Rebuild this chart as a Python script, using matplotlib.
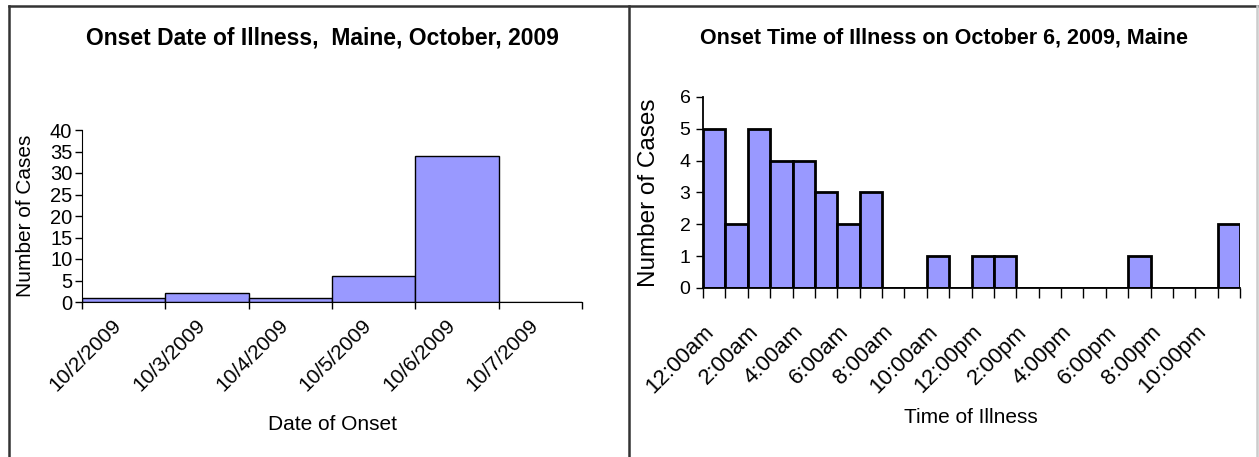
import matplotlib
matplotlib.use("Agg")
import matplotlib.pyplot as plt
from matplotlib.lines import Line2D

plt.rcParams['font.family'] = ['Liberation Sans', 'DejaVu Sans']

# left chart: cases by onset date
dates = ["10/2/2009", "10/3/2009", "10/4/2009", "10/5/2009", "10/6/2009", "10/7/2009"]
date_cases = [1, 2, 1, 6, 34, 0]

# right chart: cases by hour on Oct 6
hour_cases = [5, 2, 5, 4, 4, 3, 2, 3, 0, 0, 1, 0,
              1, 1, 0, 0, 0, 0, 0, 1, 0, 0, 0, 2]
hour_labels = ["12:00am", "2:00am", "4:00am", "6:00am", "8:00am", "10:00am",
               "12:00pm", "2:00pm", "4:00pm", "6:00pm", "8:00pm", "10:00pm"]

bar_color = '#9999ff'
W, H = 1259, 457

fig = plt.figure(figsize=(W / 100, H / 100), dpi=100)

# panel borders
for xs, ys, c in [((9, W), (H - 6, H - 6), '#333333'), ((9, 9), (0, H - 6), '#333333'),
                  ((629, 629), (0, H - 6), '#333333'), ((W - 2, W - 2), (0, H - 6), '#cccccc')]:
    fig.add_artist(Line2D([x / W for x in xs], [y / H for y in ys], color=c, lw=1.8))

########## left: onset date ##########
ax1 = fig.add_axes([82 / W, (H - 302) / H, 500 / W, 172 / H])
ax1.bar(range(len(date_cases)), date_cases, width=1, align='edge',
        color=bar_color, edgecolor='black', linewidth=1)
ax1.set_xlim(0, len(dates))
ax1.set_ylim(0, 40)
ax1.set_yticks(range(0, 41, 5))
ax1.set_xticks(range(len(dates) + 1))
ax1.set_xticklabels([])
ax1.set_xticks([i + 0.36 for i in range(len(dates))], minor=True)
ax1.set_xticklabels(dates, minor=True, rotation=45, ha='right',
                    rotation_mode='anchor', fontsize=15)
ax1.tick_params(axis='x', which='minor', length=0, pad=10)
ax1.tick_params(axis='x', which='major', length=5, width=1)
ax1.tick_params(axis='y', labelsize=14.5, length=5, width=1, pad=2)
for s in ['top', 'right']:
    ax1.spines[s].set_visible(False)
ax1.set_ylabel('Number of Cases', fontsize=15)
ax1.yaxis.set_label_coords(-0.094, 0.5)
ax1.set_xlabel('Date of Onset', fontsize=15)
ax1.xaxis.set_label_coords(0.502, -0.71)
ax1.xaxis.label.set_va('center')
fig.text(322 / W, 1 - 38 / H, 'Onset Date of Illness,  Maine, October, 2009',
         ha='center', va='center', fontsize=16.5, fontweight='bold')

########## right: onset time ##########
ax2 = fig.add_axes([703 / W, (H - 288) / H, 537 / W, 191 / H])
ax2.bar(range(len(hour_cases)), hour_cases, width=1, align='edge',
        color=bar_color, edgecolor='black', linewidth=2)
ax2.set_xlim(0, len(hour_cases))
ax2.set_ylim(0, 6)
ax2.set_yticks(range(0, 7))
ax2.set_xticks(range(len(hour_cases) + 1))
ax2.set_xticklabels([])
ax2.set_xticks([2 * i + 0.02 for i in range(len(hour_labels))], minor=True)
ax2.set_xticklabels(hour_labels, minor=True, rotation=45, ha='right',
                    rotation_mode='anchor', fontsize=16)
ax2.tick_params(axis='x', which='minor', length=0, pad=24)
ax2.tick_params(axis='x', which='major', length=7, width=1)
ax2.tick_params(axis='y', labelsize=14, length=5, width=1, pad=4)
for s in ['top', 'right']:
    ax2.spines[s].set_visible(False)
for s in ['left', 'bottom']:
    ax2.spines[s].set_linewidth(1.3)
ax2.set_ylabel('Number of Cases', fontsize=17.5)
ax2.yaxis.set_label_coords(-0.08, 0.5)
ax2.set_xlabel('Time of Illness', fontsize=15)
ax2.xaxis.set_label_coords(0.498, -0.68)
ax2.xaxis.label.set_va('center')
fig.text(944 / W, 1 - 38 / H, 'Onset Time of Illness on October 6, 2009, Maine',
         ha='center', va='center', fontsize=15.5, fontweight='bold')

fig.savefig('out.png', dpi=100)
